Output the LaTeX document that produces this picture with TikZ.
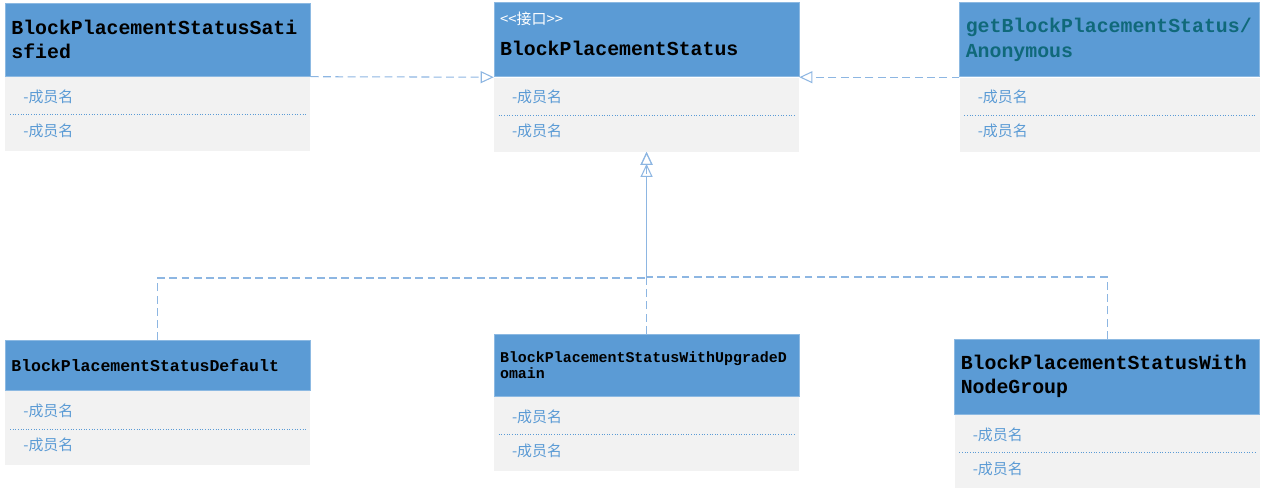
\documentclass[tikz,border=0pt]{standalone}
\usepackage{fontspec}
\setmonofont{Liberation Mono}
\newfontfamily\cjk{Noto Sans CJK SC}
\usepackage{tikz}
\usetikzlibrary{shapes, arrows.meta, positioning}
\definecolor{UMLBlue}{HTML}{5B9BD5}
\definecolor{UMLGray}{HTML}{F2F2F2}
\definecolor{UMLTeal}{HTML}{10697A}
\definecolor{UMLLine}{HTML}{8DB6E2}

\begin{document}
\begin{tikzpicture}[
			node distance=1cm,
			head/.style={rectangle, fill=UMLBlue, draw=UMLBlue!70!white, line width=0.4pt, minimum width=6.1cm, text width=5.86cm, inner xsep=0.12cm, align=left, font=\ttfamily\bfseries},
			big/.style={font=\fontsize{11.3}{13.7}\selectfont\ttfamily\bfseries},
			body/.style={rectangle, fill=UMLGray, minimum width=6.1cm, minimum height=1.48cm},
			member/.style={anchor=west, inner sep=0pt, text=UMLBlue, font=\cjk\fontsize{8.5}{10}\selectfont},
			sep/.style={densely dotted, UMLBlue, line width=0.5pt},
			realize/.style={UMLLine, line width=0.6pt, dash pattern=on 4.5pt off 2.5pt, -{Triangle[open, length=0.26cm, width=0.24cm]}},
			]
			\useasboundingbox (0,0) rectangle (25.3,-9.76);
			\node (sat) [head, big, minimum height=1.46cm, anchor=north west] at (0.1,-0.06) {BlockPlacementStatusSati\\sfied};
			\node (satb) [body, below=0pt of sat] {};
			\node (ifc) [head, minimum height=1.48cm, text depth=0.88cm, right=3.66cm of sat] {{\cjk\mdseries\fontsize{8.5}{10}\selectfont\color{white}<<接口>>}\\[6pt]\fontsize{11.3}{13.7}\selectfont BlockPlacementStatus};
			\node (ifcb) [body, below=0pt of ifc] {};
			\node (get) [head, big, minimum width=6.0cm, text width=5.76cm, minimum height=1.48cm, right=3.2cm of ifc, text=UMLTeal] {getBlockPlacementStatus/\\Anonymous};
			\node (getb) [body, minimum width=6.0cm, below=0pt of get] {};
			\node (def) [head, font=\fontsize{9.4}{11}\selectfont\ttfamily\bfseries, minimum height=1.0cm, below=3.78cm of satb] {BlockPlacementStatusDefault};
			\node (defb) [body, below=0pt of def] {};
			\node (upg) [head, font=\fontsize{8.5}{9.1}\selectfont\ttfamily\bfseries, minimum height=1.24cm, below=3.64cm of ifcb] {BlockPlacementStatusWithUpgradeD\\omain};
			\node (upgb) [body, below=0pt of upg] {};
			\node (ng) [head, big, minimum height=1.5cm, below=3.74cm of getb, xshift=-0.05cm] {BlockPlacementStatusWith\\NodeGroup};
			\node (ngb) [body, below=0pt of ng] {};

			% members and separator of every class
			\foreach \b in {satb, ifcb, getb, defb, upgb, ngb} {
				\node (\b-a) [member] at ([shift={(0.36,-0.4)}]\b.north west) {-成员名};
				\node (\b-b) [member] at ([shift={(0.36,-1.08)}]\b.north west) {-成员名};
				\draw[sep] ([shift={(0.1,-0.76)}]\b.north west) -- ([shift={(-0.1,-0.76)}]\b.north east);
			}

			\coordinate (jl) at (ifcb.south |- 0,-5.56);
			\coordinate (jr) at (ifcb.south |- 0,-5.54);
			\coordinate (tip2) at ([yshift=-0.24cm]ifcb.south);

			\draw[realize] (sat.south east) -- (ifc.south west);
			\draw[realize] (get.south west) -- (ifc.south east);
			\draw[realize] (upg.north) -- (ifcb.south);
			\draw[realize] (def.north) |- (jl) -- (tip2); % second head just below
			\draw[realize] (ng.north) |- (jr) -- (ifcb.south);
		\end{tikzpicture}
\end{document}
